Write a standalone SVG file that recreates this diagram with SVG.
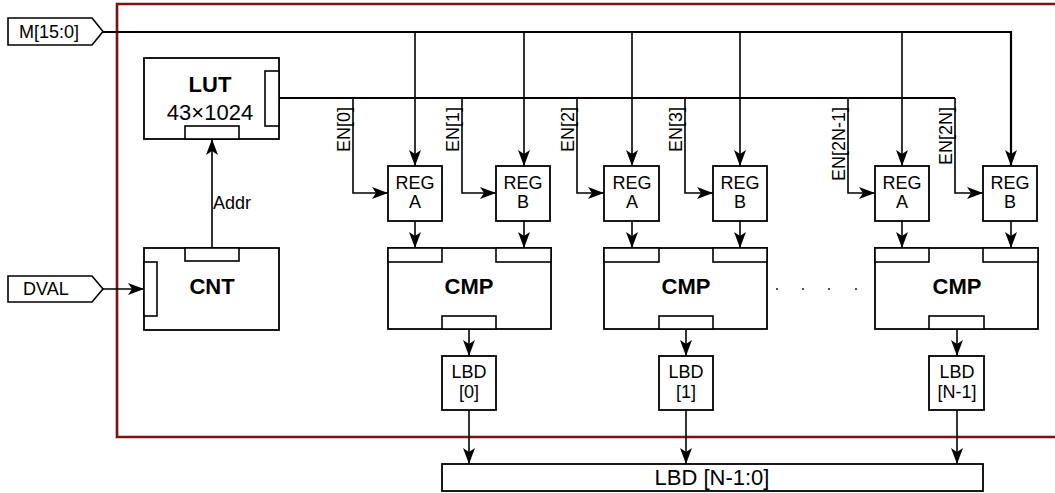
<svg xmlns="http://www.w3.org/2000/svg" width="1055" height="493" viewBox="0 0 1055 493">
<defs>
<marker id="ar" markerUnits="userSpaceOnUse" viewBox="0 0 16 12" refX="16" refY="6" markerWidth="16" markerHeight="12" orient="auto">
<path d="M0,0 L16,6 L0,12 L4,6 Z" fill="#000"/>
</marker>
<style>
.box{fill:#fff;stroke:#000;stroke-width:1.8}
.port{fill:#fff;stroke:#000;stroke-width:1.6}
.bus{fill:none;stroke:#000;stroke-width:2.2}
.ln{fill:none;stroke:#000;stroke-width:1.6}
.t{font-family:"Liberation Sans",Arial,sans-serif;fill:#000}
.b{font-weight:bold;font-size:22px}
.r{font-size:18px}
.big{font-size:22px}
</style>
</defs>
<rect width="1055" height="493" fill="#fff"/>
<!-- boundary -->
<path d="M1060,4 H117 V437 H1060" fill="none" stroke="#7B1113" stroke-width="2.6"/>

<g id="connectors">
<!-- M bus -->
<path class="bus" d="M103,32 H1011 V166" marker-end="url(#ar)"/>
<path class="ln" d="M415,32 V166" marker-end="url(#ar)"/>
<path class="ln" d="M524,32 V166" marker-end="url(#ar)"/>
<path class="ln" d="M632,32 V166" marker-end="url(#ar)"/>
<path class="ln" d="M740,32 V166" marker-end="url(#ar)"/>
<path class="ln" d="M902,32 V166" marker-end="url(#ar)"/>
<!-- EN bus -->
<path class="bus" d="M279,98 H955"/>
<path class="ln" d="M353,98 V193 H388" marker-end="url(#ar)"/>
<path class="ln" d="M462,98 V193 H496" marker-end="url(#ar)"/>
<path class="ln" d="M577,98 V193 H604" marker-end="url(#ar)"/>
<path class="ln" d="M685,98 V193 H713" marker-end="url(#ar)"/>
<path class="ln" d="M848,98 V193 H875" marker-end="url(#ar)"/>
<path class="ln" d="M955,98 V193 H983" marker-end="url(#ar)"/>
<!-- REG to CMP -->
<path class="ln" d="M415,221 V248" marker-end="url(#ar)"/>
<path class="ln" d="M524,221 V248" marker-end="url(#ar)"/>
<path class="ln" d="M632,221 V248" marker-end="url(#ar)"/>
<path class="ln" d="M740,221 V248" marker-end="url(#ar)"/>
<path class="ln" d="M902,221 V248" marker-end="url(#ar)"/>
<path class="ln" d="M1011,221 V248" marker-end="url(#ar)"/>
<!-- CMP to LBD -->
<path class="ln" d="M469,329 V356" marker-end="url(#ar)"/>
<path class="ln" d="M686,329 V356" marker-end="url(#ar)"/>
<path class="ln" d="M957,329 V356" marker-end="url(#ar)"/>
<!-- LBD to bus -->
<path class="ln" d="M469,410 V464" marker-end="url(#ar)"/>
<path class="ln" d="M686,410 V464" marker-end="url(#ar)"/>
<path class="ln" d="M957,410 V464" marker-end="url(#ar)"/>
<!-- Addr -->
<path class="ln" d="M212,248 V139" marker-end="url(#ar)"/>
<text class="t r" x="213" y="209">Addr</text>
<!-- DVAL -->
<path class="ln" d="M103,289 H144" marker-end="url(#ar)"/>
<!-- EN labels -->
<text class="t r" text-anchor="end" transform="translate(350,107) rotate(-90)">EN[0]</text>
<text class="t r" text-anchor="end" transform="translate(459,107) rotate(-90)">EN[1]</text>
<text class="t r" text-anchor="end" transform="translate(574,107) rotate(-90)">EN[2]</text>
<text class="t r" text-anchor="end" transform="translate(682,107) rotate(-90)">EN[3]</text>
<text class="t r" text-anchor="end" transform="translate(845,107) rotate(-90)">EN[2N-1]</text>
<text class="t r" text-anchor="end" transform="translate(952,107) rotate(-90)">EN[2N]</text>
</g>

<g id="M">
<path class="port" d="M8,18 H92 L103,31.5 L92,45 H8 Z"/>
<text class="t r" x="19" y="38">M[15:0]</text>
</g>
<g id="DVAL">
<path class="port" d="M8,276 H92 L103,289 L92,302 H8 Z"/>
<text class="t r" x="23" y="295">DVAL</text>
</g>

<g id="LUT">
<rect class="box" x="144" y="58" width="135" height="81"/>
<rect class="port" x="265" y="71" width="14" height="55"/>
<rect class="port" x="185" y="126" width="54" height="13"/>
<text class="t b" x="210" y="92" text-anchor="middle">LUT</text>
<text class="t big" x="210" y="120" text-anchor="middle">43×1024</text>
</g>

<g id="CNT">
<rect class="box" x="144" y="248" width="135" height="82"/>
<rect class="port" x="185" y="248" width="54" height="13"/>
<rect class="port" x="144" y="262" width="13" height="54"/>
<text class="t b" x="212" y="294" text-anchor="middle">CNT</text>
</g>

<g id="REG_A0"><rect class="box" x="388" y="166" width="54" height="55"/><text class="t r" x="415" y="189" text-anchor="middle">REG</text><text class="t r" x="415" y="208" text-anchor="middle">A</text></g>
<g id="REG_B0"><rect class="box" x="496" y="166" width="54" height="55"/><text class="t r" x="523" y="189" text-anchor="middle">REG</text><text class="t r" x="523" y="208" text-anchor="middle">B</text></g>
<g id="REG_A1"><rect class="box" x="604" y="166" width="55" height="55"/><text class="t r" x="632" y="189" text-anchor="middle">REG</text><text class="t r" x="632" y="208" text-anchor="middle">A</text></g>
<g id="REG_B1"><rect class="box" x="713" y="166" width="54" height="55"/><text class="t r" x="740" y="189" text-anchor="middle">REG</text><text class="t r" x="740" y="208" text-anchor="middle">B</text></g>
<g id="REG_A2"><rect class="box" x="875" y="166" width="54" height="55"/><text class="t r" x="902" y="189" text-anchor="middle">REG</text><text class="t r" x="902" y="208" text-anchor="middle">A</text></g>
<g id="REG_B2"><rect class="box" x="983" y="166" width="54" height="55"/><text class="t r" x="1010" y="189" text-anchor="middle">REG</text><text class="t r" x="1010" y="208" text-anchor="middle">B</text></g>

<g id="CMP0">
<rect class="box" x="388" y="248" width="163" height="81"/>
<rect class="port" x="388" y="248" width="54" height="14"/>
<rect class="port" x="496" y="248" width="55" height="14"/>
<rect class="port" x="442" y="316" width="54" height="13"/>
<text class="t b" x="469" y="294" text-anchor="middle">CMP</text>
</g>
<g id="CMP1">
<rect class="box" x="604" y="248" width="163" height="81"/>
<rect class="port" x="604" y="248" width="55" height="14"/>
<rect class="port" x="713" y="248" width="54" height="14"/>
<rect class="port" x="659" y="316" width="54" height="13"/>
<text class="t b" x="686" y="294" text-anchor="middle">CMP</text>
</g>
<g id="CMP2">
<rect class="box" x="875" y="248" width="163" height="81"/>
<rect class="port" x="875" y="248" width="54" height="14"/>
<rect class="port" x="983" y="248" width="55" height="14"/>
<rect class="port" x="929" y="316" width="55" height="13"/>
<text class="t b" x="957" y="294" text-anchor="middle">CMP</text>
</g>

<g id="dots" fill="#000">
<circle cx="777" cy="289" r="0.9"/><circle cx="803" cy="289" r="0.9"/><circle cx="829" cy="289" r="0.9"/><circle cx="856" cy="289" r="0.9"/>
</g>

<g id="LBD0"><rect class="box" x="442" y="356" width="54" height="54"/><text class="t r" x="469" y="378" text-anchor="middle">LBD</text><text class="t r" x="469" y="398" text-anchor="middle">[0]</text></g>
<g id="LBD1"><rect class="box" x="659" y="356" width="54" height="54"/><text class="t r" x="686" y="378" text-anchor="middle">LBD</text><text class="t r" x="686" y="398" text-anchor="middle">[1]</text></g>
<g id="LBDN"><rect class="box" x="929" y="356" width="55" height="54"/><text class="t r" x="957" y="378" text-anchor="middle">LBD</text><text class="t r" x="957" y="398" text-anchor="middle">[N-1]</text></g>

<g id="LBDBUS">
<rect class="box" x="442" y="464" width="541" height="27"/>
<text class="t big" x="712" y="485" text-anchor="middle">LBD [N-1:0]</text>
</g>
</svg>
